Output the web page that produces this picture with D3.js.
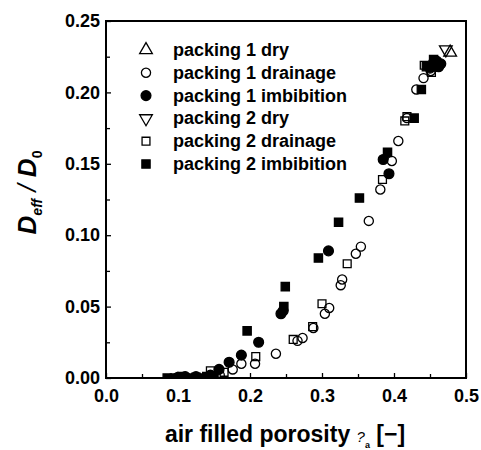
<!DOCTYPE html>
<meta charset="utf-8">
<script src="https://d3js.org/d3.v7.min.js"></script>
<style>
  body { margin: 0; background: #fff; }
  text { font-family: "Liberation Sans", Arial, sans-serif; font-weight: bold; fill: #000; }
</style>
<div id="my_dataviz"></div>
<script>
// data: [air filled porosity, Deff/D0]
var packing1Dry = [[0.478, 0.228]];
var packing1Drainage = [
  [0.441, 0.210], [0.431, 0.202], [0.418, 0.182], [0.406, 0.166], [0.397, 0.152],
  [0.381, 0.132], [0.365, 0.110], [0.354, 0.092], [0.347, 0.087], [0.328, 0.069],
  [0.326, 0.065], [0.310, 0.049], [0.304, 0.045], [0.288, 0.035], [0.273, 0.028],
  [0.266, 0.026], [0.236, 0.017], [0.207, 0.010], [0.188, 0.010], [0.176, 0.006],
  [0.158, 0.002], [0.451, 0.215], [0.458, 0.218]
];
var packing1Imbibition = [
  [0.462, 0.218], [0.459, 0.222], [0.465, 0.220], [0.455, 0.221], [0.450, 0.217],
  [0.385, 0.153], [0.393, 0.143], [0.309, 0.089], [0.246, 0.047], [0.243, 0.045],
  [0.212, 0.025], [0.188, 0.016], [0.171, 0.011], [0.157, 0.006], [0.145, 0.002],
  [0.125, 0.001], [0.110, 0.001], [0.100, 0.0005]
];
var packing2Dry = [[0.472, 0.230]];
var packing2Drainage = [
  [0.442, 0.219], [0.452, 0.214], [0.418, 0.183], [0.415, 0.180], [0.384, 0.139],
  [0.335, 0.080], [0.300, 0.052], [0.287, 0.036], [0.260, 0.027], [0.208, 0.015],
  [0.164, 0.004], [0.145, 0.005]
];
var packing2Imbibition = [
  [0.438, 0.202], [0.428, 0.182], [0.391, 0.158], [0.352, 0.126], [0.323, 0.109],
  [0.295, 0.084], [0.249, 0.064], [0.247, 0.050], [0.196, 0.033], [0.445, 0.218],
  [0.455, 0.223], [0.085, 0.000], [0.095, 0.000], [0.105, 0.001], [0.115, 0.000],
  [0.125, 0.0005], [0.135, 0.000], [0.140, 0.001], [0.150, 0.000]
];
var legendLabels = ["packing 1 dry", "packing 1 drainage", "packing 1 imbibition",
                    "packing 2 dry", "packing 2 drainage", "packing 2 imbibition"];
var xTicks = [0, 0.1, 0.2, 0.3, 0.4, 0.5];
var yTicks = [0, 0.05, 0.10, 0.15, 0.20, 0.25];

var margin = {top: 21, right: 15, bottom: 72, left: 106},
    width = 481 - margin.left - margin.right,
    height = 450 - margin.top - margin.bottom;

var svg = d3.select("#my_dataviz")
  .append("svg")
    .attr("width", 481)
    .attr("height", 450)
  .append("g")
    .attr("transform", "translate(" + margin.left + "," + margin.top + ")");

var x = d3.scaleLinear().domain([0, 0.5]).range([0, width]);
var y = d3.scaleLinear().domain([0, 0.25]).range([height, 0]);

svg.append("clipPath").attr("id", "clip")
  .append("rect").attr("width", width).attr("height", height);

// inward ticks, major + minor
var xMinor = d3.range(0.05, 0.5, 0.1);
var yMinor = d3.range(0.025, 0.25, 0.05);

svg.append("g")
  .attr("transform", "translate(0," + height + ")")
  .call(d3.axisBottom(x).tickValues(xTicks).tickSize(-5).tickPadding(11).tickFormat(d3.format(".1f")))
  .call(function(g) { g.select(".domain").remove(); })
  .selectAll("text").attr("font-size", 18);
svg.append("g")
  .attr("transform", "translate(0," + height + ")")
  .call(d3.axisBottom(x).tickValues(xMinor).tickSize(-4).tickFormat(""))
  .call(function(g) { g.select(".domain").remove(); });

svg.append("g")
  .call(d3.axisLeft(y).tickValues(yTicks).tickSize(-5).tickPadding(6).tickFormat(d3.format(".2f")))
  .call(function(g) { g.select(".domain").remove(); })
  .selectAll("text").attr("font-size", 18);
svg.append("g")
  .call(d3.axisLeft(y).tickValues(yMinor).tickSize(-4).tickFormat(""))
  .call(function(g) { g.select(".domain").remove(); });

svg.selectAll(".tick line").attr("stroke", "#000").attr("stroke-width", 1.3);

// frame
svg.append("rect")
  .attr("width", width).attr("height", height)
  .attr("fill", "none").attr("stroke", "#000").attr("stroke-width", 2);

var series = [
  {data: packing1Dry, shape: d3.symbolTriangle, rot: 0, fill: "none", size: 70},
  {data: packing1Drainage, shape: d3.symbolCircle, rot: 0, fill: "none", size: 66},
  {data: packing1Imbibition, shape: d3.symbolCircle, rot: 0, fill: "#000", size: 76},
  {data: packing2Dry, shape: d3.symbolTriangle, rot: 180, fill: "none", size: 70},
  {data: packing2Drainage, shape: d3.symbolSquare, rot: 0, fill: "none", size: 62},
  {data: packing2Imbibition, shape: d3.symbolSquare, rot: 0, fill: "#000", size: 68}
];

var plot = svg.append("g").attr("clip-path", "url(#clip)");
series.forEach(function(s) {
  plot.selectAll(null)
    .data(s.data)
    .enter()
    .append("path")
      .attr("d", d3.symbol().type(s.shape).size(s.size))
      .attr("transform", function(d) { return "translate(" + x(d[0]) + "," + y(d[1]) + ") rotate(" + s.rot + ")"; })
      .attr("fill", s.fill === "none" ? "#fff" : s.fill)
      .attr("fill-opacity", s.fill === "none" ? 0 : 1)
      .attr("stroke", "#000")
      .attr("stroke-width", 1.3);
});

// legend
var legend = svg.append("g").attr("transform", "translate(40,29)");
series.forEach(function(s, i) {
  var row = legend.append("g").attr("transform", "translate(0," + (i * 22.8) + ")");
  row.append("path")
    .attr("d", d3.symbol().type(s.shape).size(s.size))
    .attr("transform", "rotate(" + s.rot + ")")
    .attr("fill", s.fill)
    .attr("stroke", "#000")
    .attr("stroke-width", 1.3);
  row.append("text")
    .attr("x", 27).attr("y", 6)
    .attr("font-size", 18)
    .text(legendLabels[i]);
});

// axis titles
var xt = svg.append("text")
  .attr("x", width / 2 - 1).attr("y", height + 64)
  .attr("text-anchor", "middle")
  .style("font-size", "23px");
xt.append("tspan").text("air filled porosity ");
xt.append("tspan").style("font-size", "15px").style("font-style", "italic").style("font-weight", "normal").text("?");
xt.append("tspan").style("font-size", "9px").attr("dy", 6).text("a");
xt.append("tspan").attr("dy", -6).text(" [\u2212]");

var yt = svg.append("text")
  .attr("transform", "translate(" + (-70) + "," + (height / 2 - 7) + ") rotate(-90)")
  .attr("text-anchor", "middle")
  .style("font-size", "26px")
  .style("font-style", "italic");
yt.append("tspan").text("D");
yt.append("tspan").style("font-size", "14px").attr("dy", 6).text("eff");
yt.append("tspan").attr("dy", -6).style("font-weight", "normal").text(" / ");
yt.append("tspan").text("D");
yt.append("tspan").style("font-size", "14px").attr("dy", 6).style("font-style", "normal").text("0");
</script>
